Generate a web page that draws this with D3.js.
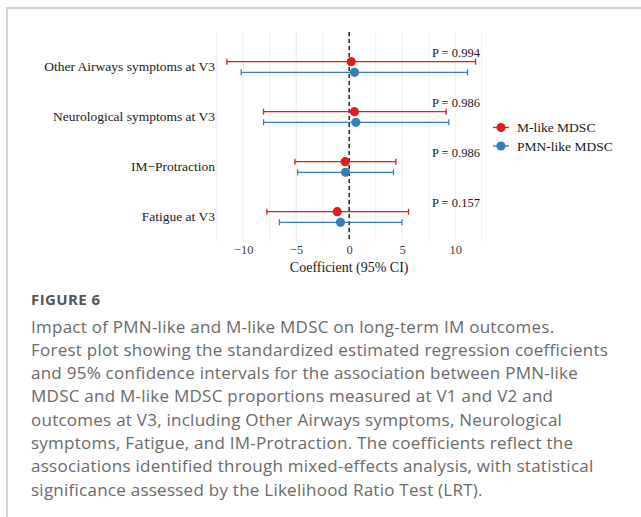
<!DOCTYPE html>
<html>
<head>
<meta charset="utf-8">
<script src="https://cdn.jsdelivr.net/npm/d3@7"></script>
<style>
  body { margin: 0; background: #fff; }
  #card {
    position: absolute; left: 6px; top: 7px; width: 640px; height: 520px;
    border-left: 2px solid #d4d4d8; border-top: 2px solid #d4d4d8;
    box-sizing: border-box;
  }
  .caption { font-family: "Open Sans", Lato, sans-serif; fill: #6a6a6a; font-size: 17px; letter-spacing: 0.25px; }
  .fig-label { font-family: "Open Sans", Lato, sans-serif; fill: #555; font-size: 15px; font-weight: bold; letter-spacing: 0.4px; }
  .serif { font-family: "Liberation Serif", "Times New Roman", serif; fill: #1a1a1a; }
</style>
</head>
<body>
<div id="card"></div>
<svg id="chart" width="641" height="517" style="position:absolute;left:0;top:0"></svg>
<script>
// outcomes, top to bottom
const outcomes = ['Other Airways symptoms at V3', 'Neurological symptoms at V3', 'IM\u2212Protraction', 'Fatigue at V3']
const groups = ['M-like MDSC', 'PMN-like MDSC']
const colors = ['#e41a1c', '#377eb8']
const pLabels = ['P = 0.994', 'P = 0.986', 'P = 0.986', 'P = 0.157']

// estimate, lower, upper per outcome
const mEst = [0.19, 0.5, -0.38, -1.13]
const mLow = [-11.54, -8.08, -5.12, -7.77]
const mHigh = [11.92, 9.15, 4.4, 5.6]
const pmnEst = [0.5, 0.63, -0.35, -0.82]
const pmnLow = [-10.19, -8.08, -4.87, -6.58]
const pmnHigh = [11.16, 9.4, 4.18, 4.97]

const xTicks = [-10, -5, 0, 5, 10]
const xGrid = [-12.5, -10, -7.5, -5, -2.5, 0, 2.5, 5, 7.5, 10, 12.5]

const rows = []
outcomes.forEach((o, i) => {
    rows.push({ outcome: o, group: groups[0], est: mEst[i], lo: mLow[i], hi: mHigh[i] })
    rows.push({ outcome: o, group: groups[1], est: pmnEst[i], lo: pmnLow[i], hi: pmnHigh[i] })
})

const svg = d3.select('#chart')
const serif = '"Liberation Serif", "Times New Roman", serif'

const panel = { left: 212, right: 487, top: 32, bottom: 242 }

const x = d3.scaleLinear().domain([-12.5, 12.5]).range([216.7, 481.7])
const y = d3.scaleBand().domain(outcomes).range([42, 242]).paddingInner(0)
const dodge = d3.scaleBand().domain(groups).range([-10.6, 10.6])

// grid
svg.append('g').selectAll('line').data(xGrid).join('line')
    .attr('x1', d => x(d)).attr('x2', d => x(d))
    .attr('y1', panel.top).attr('y2', panel.bottom)
    .attr('stroke', '#ebebeb').attr('stroke-width', d => d % 5 === 0 ? 1 : 0.8)

// zero line
svg.append('line')
    .attr('x1', x(0)).attr('x2', x(0))
    .attr('y1', panel.top).attr('y2', panel.bottom)
    .attr('stroke', '#333').attr('stroke-width', 1.6).attr('stroke-dasharray', '4,3')

// x axis
const xAxis = d3.axisBottom(x).tickValues(xTicks).tickSize(0).tickPadding(3)
    .tickFormat(d => d < 0 ? '\u2212' + Math.abs(d) : d)
const gx = svg.append('g').attr('transform', `translate(0,${panel.bottom})`).call(xAxis)
gx.select('.domain').remove()
gx.selectAll('text')
    .style('font-family', serif).style('font-size', '12.5px').style('fill', '#444')

svg.append('text').attr('class', 'serif')
    .attr('x', x(0)).attr('y', 272).attr('text-anchor', 'middle')
    .attr('font-size', 14).text('Coefficient (95% CI)')

// y labels
const yAxis = d3.axisLeft(y).tickSize(0).tickPadding(0)
const gy = svg.append('g').attr('transform', 'translate(215,0)').call(yAxis)
gy.select('.domain').remove()
gy.selectAll('text')
    .style('font-family', serif).style('font-size', '13.5px').style('fill', '#1a1a1a')

const cy = d => y(d.outcome) + y.bandwidth() / 2 + dodge(d.group) + dodge.bandwidth() / 2
const col = d => colors[groups.indexOf(d.group)]

const bars = svg.append('g').selectAll('g').data(rows).join('g')
bars.append('line')
    .attr('x1', d => x(d.lo)).attr('x2', d => x(d.hi))
    .attr('y1', cy).attr('y2', cy)
    .attr('stroke', col).attr('stroke-width', 1.3)
bars.append('line')
    .attr('x1', d => x(d.lo)).attr('x2', d => x(d.lo))
    .attr('y1', d => cy(d) - 3).attr('y2', d => cy(d) + 3)
    .attr('stroke', col).attr('stroke-width', 1.3)
bars.append('line')
    .attr('x1', d => x(d.hi)).attr('x2', d => x(d.hi))
    .attr('y1', d => cy(d) - 3).attr('y2', d => cy(d) + 3)
    .attr('stroke', col).attr('stroke-width', 1.3)
bars.append('circle')
    .attr('cx', d => x(d.est)).attr('cy', cy).attr('r', 4.6)
    .attr('fill', col)

// p values
svg.append('g').selectAll('text').data(outcomes).join('text')
    .attr('class', 'serif')
    .attr('x', 432).attr('y', d => y(d) + y.bandwidth() / 2 - 10)
    .attr('font-size', 12.5)
    .text((d, i) => pLabels[i])

// legend
const leg = svg.append('g').selectAll('g').data(groups).join('g')
    .attr('transform', (d, i) => `translate(493,${127.5 + i * 18.5})`)
leg.append('line').attr('x1', 0).attr('x2', 16)
    .attr('stroke', (d, i) => colors[i]).attr('stroke-width', 1.3)
leg.append('circle').attr('cx', 8).attr('r', 4.6).attr('fill', (d, i) => colors[i])
leg.append('text').attr('class', 'serif')
    .attr('x', 24).attr('dy', '0.35em').attr('font-size', 13.5)
    .text(d => d)

// caption
svg.append('text').attr('class', 'fig-label').attr('x', 31).attr('y', 305).text('FIGURE 6')
const captionLines = [
    'Impact of PMN-like and M-like MDSC on long-term IM outcomes.',
    'Forest plot showing the standardized estimated regression coefficients',
    'and 95% confidence intervals for the association between PMN-like',
    'MDSC and M-like MDSC proportions measured at V1 and V2 and',
    'outcomes at V3, including Other Airways symptoms, Neurological',
    'symptoms, Fatigue, and IM-Protraction. The coefficients reflect the',
    'associations identified through mixed-effects analysis, with statistical',
    'significance assessed by the Likelihood Ratio Test (LRT).'
]
svg.append('g').selectAll('text').data(captionLines).join('text')
    .attr('class', 'caption')
    .attr('x', 31).attr('y', (d, i) => 332.5 + i * 23.3)
    .text(d => d)
</script>
</body>
</html>
